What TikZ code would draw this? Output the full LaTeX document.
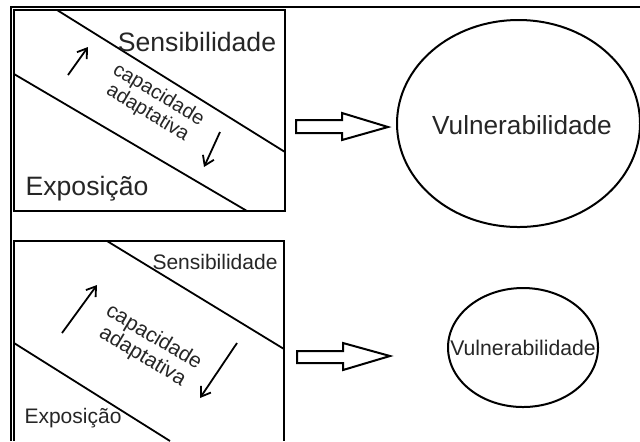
\documentclass[tikz,border=0pt]{standalone}
\usepackage{fontspec}
\setmainfont{Liberation Sans}
\usetikzlibrary{arrows.meta,shapes.geometric}
\begin{document}
\begin{tikzpicture}[x=0.5pt,y=-0.5pt,
  frame/.style={line width=1.3pt},
  boxline/.style={line width=1pt},
  diag/.style={line width=0.9pt},
  thinarrow/.style={line width=0.9pt,-{Straight Barb[length=4.5pt,width=6pt]}},
  blockarrow/.style={line width=1pt,line join=miter},
  lbl/.style={inner sep=0pt,text=black!85}
]
\useasboundingbox[fill=white] (0,0) rectangle (640,441);
% outer frame
\draw[frame] (11,441) -- (11,7) -- (640,7);

% ---------- top panel ----------
\draw[boxline] (14,10) rectangle (285,211);
\draw[diag] (57,10) -- (285,152);
\draw[diag] (14,74) -- (247,211);
\node[lbl,font=\fontsize{13.3pt}{15pt}\selectfont] (sens1) at (197,42) {Sensibilidade};
\node[lbl,font=\fontsize{13.3pt}{15pt}\selectfont] (expo1) at (87,189) {Exposição};
\node[lbl,rotate=-31,align=center,font=\fontsize{10pt}{10.5pt}\selectfont] (cap1) at (153,104) {capacidade\\adaptativa};
\coordinate (u1s) at (68,75); \coordinate (u1e) at (88,47);
\coordinate (d1s) at (220,132); \coordinate (d1e) at (204,167);
\draw[thinarrow] (u1s) -- (u1e);
\draw[thinarrow] (d1s) -- (d1e);
% block arrow
\draw[blockarrow] (296,120) -- (342,120) -- (342,113) -- (388,127) -- (342,140) -- (342,133) -- (296,133) -- cycle;
\draw[boxline] (518.5,123.5) ellipse [x radius=121.5, y radius=103.5];
\node[lbl,font=\fontsize{13.1pt}{15pt}\selectfont] (vul1) at (522,125) {Vulnerabilidade};

% ---------- bottom panel ----------
\draw[boxline] (14,441) -- (14,241) -- (284,241) -- (284,441);
\draw[diag] (107,241) -- (284,349);
\draw[diag] (14,343) -- (170,441);
\node[lbl,font=\fontsize{10.5pt}{12pt}\selectfont] (sens2) at (215,262) {Sensibilidade};
\node[lbl,font=\fontsize{10.5pt}{12pt}\selectfont] (expo2) at (73,418) {Exposição};
\node[lbl,rotate=-31,align=center,font=\fontsize{10.5pt}{11pt}\selectfont] (cap2) at (148,347) {capacidade\\adaptativa};
\coordinate (u2s) at (62,333); \coordinate (u2e) at (97,285);
\coordinate (d2s) at (237,343); \coordinate (d2e) at (200,398);
\draw[thinarrow] (u2s) -- (u2e);
\draw[thinarrow] (d2s) -- (d2e);
\draw[blockarrow] (297,351) -- (343,351) -- (343,343) -- (390,356) -- (343,370) -- (343,363) -- (297,363) -- cycle;
\draw[boxline] (523,347.5) ellipse [x radius=75, y radius=59.5];
\node[lbl,font=\fontsize{10.6pt}{12pt}\selectfont] (vul2) at (523,348) {Vulnerabilidade};
\end{tikzpicture}
\end{document}
